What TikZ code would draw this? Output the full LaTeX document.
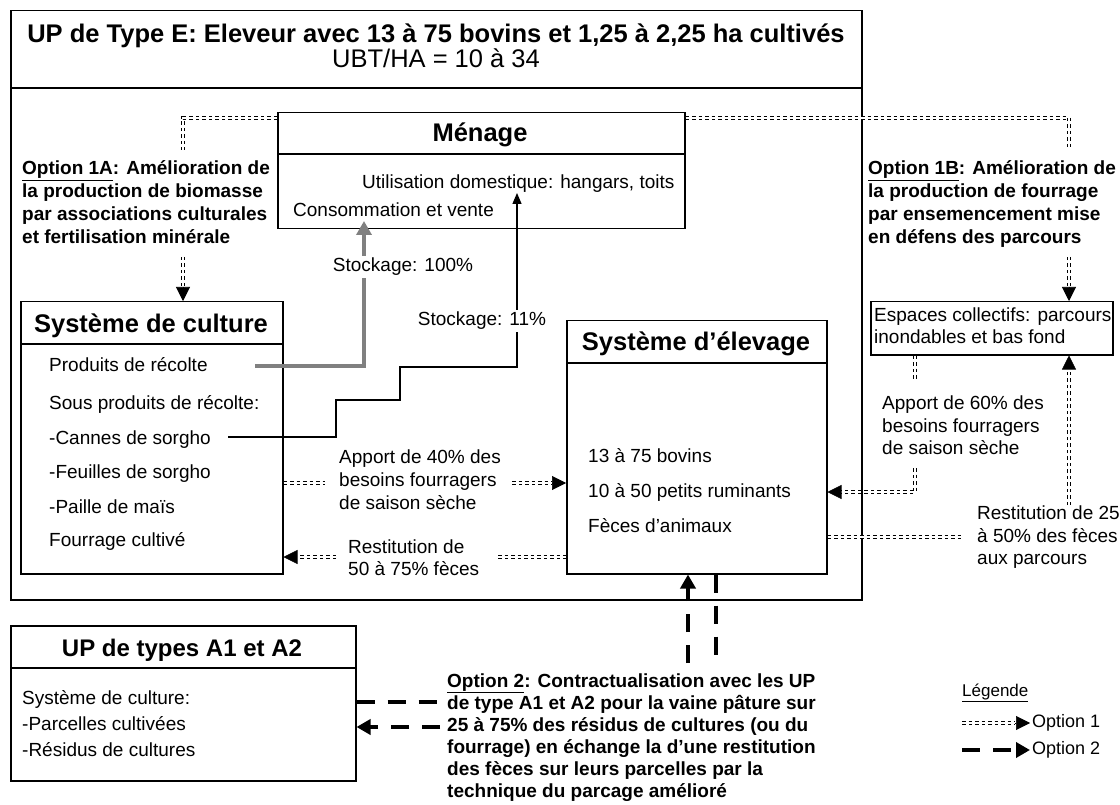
\documentclass[tikz,border=0pt]{standalone}
\usepackage{fontspec}
\setmainfont{Liberation Sans}
\usetikzlibrary{arrows.meta,calc}
\newcommand\fsz[1]{\fontsize{#1}{#1}\selectfont}
\definecolor{stockgray}{RGB}{128,128,128}
\begin{document}
\begin{tikzpicture}[x=1pt,y=-1pt,
  box/.style={draw, line width=1.5pt, anchor=north west, inner sep=0pt},
  lbl/.style={anchor=base west, inner sep=0pt, font=\fsz{19}},
  lblb/.style={anchor=base west, inner sep=0pt, font=\fsz{19}\bfseries},
  ttl/.style={anchor=base, inner sep=0pt, font=\fsz{25.5}\bfseries},
  opt1/.style={line width=1.7pt, double=white, double distance=1.1pt, dash pattern=on 3.5pt off 3pt},
  tipA/.style={line width=0.6pt, -{Triangle[length=14pt,width=14pt]}},
  opt2/.style={line width=4pt, dash pattern=on 18pt off 13pt},
  tipB/.style={-{Triangle[length=14pt,width=15pt]}},
  grayarr/.style={draw=stockgray, line width=4pt, -{Triangle[length=14pt,width=15pt]}},
  thinarr/.style={line width=1.3pt, -{Triangle[length=11pt,width=9pt]}},
  whitelbl/.style={anchor=base, fill=white, inner sep=2pt, font=\fsz{19}}
]
\useasboundingbox (0,0) rectangle (1120,805);

% ---------- boxes ----------
\node[box, minimum width=851pt, minimum height=589pt] (outer) at (10,10) {};
\draw[line width=1.5pt] (10,88) -- (861,88);
\node[ttl] (title1) at (436,43) {UP de Type E: Eleveur avec 13 à 75 bovins et 1,25 à 2,25 ha cultivés};
\node[anchor=base, inner sep=0pt, font=\fsz{25.5}] (title2) at (436,68) {UBT/HA = 10 à 34};

\node[box, minimum width=407pt, minimum height=116pt] (menage) at (277,112) {};
\draw[line width=1.5pt] (277,154) -- (684,154);
\node[ttl] (menT) at (480,142) {Ménage};
\node[lbl] (util) at (362,189) {Utilisation domestique: hangars, toits};
\node[lbl] (cons) at (293,217) {Consommation et vente};

\node[box, minimum width=262pt, minimum height=272pt] (culture) at (20,301) {};
\draw[line width=1.5pt] (20,344) -- (282,344);
\node[ttl] (culT) at (151,332) {Système de culture};
\node[lbl] (c1) at (49,371) {Produits de récolte};
\node[lbl] (c2) at (49,409) {Sous produits de récolte:};
\node[lbl] (c3) at (49,444) {-Cannes de sorgho};
\node[lbl] (c4) at (49,478) {-Feuilles de sorgho};
\node[lbl] (c5) at (49,513) {-Paille de maïs};
\node[lbl] (c6) at (49,546) {Fourrage cultivé};

\node[box, minimum width=260pt, minimum height=253pt] (elev) at (566,320) {};
\draw[line width=1.5pt] (566,363) -- (826,363);
\node[ttl] (elT) at (696,351) {Système d’élevage};
\node[lbl] (e1) at (588,462) {13 à 75 bovins};
\node[lbl] (e2) at (588,497) {10 à 50 petits ruminants};
\node[lbl] (e3) at (588,532) {Fèces d’animaux};

\node[box, minimum width=242pt, minimum height=53pt] (esp) at (870,301) {};
\node[lbl] (esp1) at (874,321) {Espaces collectifs: parcours};
\node[lbl] (esp2) at (874,344) {inondables et bas fond};

\node[box, minimum width=345pt, minimum height=155pt] (a12) at (10,625) {};
\draw[line width=1.5pt] (10,668) -- (355,668);
\node[anchor=base, inner sep=0pt, font=\fsz{24}\bfseries] (a12T) at (182,656) {UP de types A1 et A2};
\node[lbl] (a1) at (22,704) {Système de culture:};
\node[lbl] (a2) at (22,730) {-Parcelles cultivées};
\node[lbl] (a3) at (22,756) {-Résidus de cultures};

% ---------- option texts ----------
\node[lblb] (o1a1) at (22,175) {\underline{Option 1A}: Amélioration de};
\node[lblb] (o1a2) at (22,198) {la production de biomasse};
\node[lblb] (o1a3) at (22,221) {par associations culturales};
\node[lblb] (o1a4) at (22,244) {et fertilisation minérale};

\node[lblb] (o1b1) at (868,175) {\underline{Option 1B}: Amélioration de};
\node[lblb] (o1b2) at (868,198) {la production de fourrage};
\node[lblb] (o1b3) at (868,221) {par ensemencement mise};
\node[lblb] (o1b4) at (868,244) {en défens des parcours};

\node[lbl] (ap40a) at (339,463) {Apport de 40\% des};
\node[lbl] (ap40b) at (339,486) {besoins fourragers};
\node[lbl] (ap40c) at (339,509) {de saison sèche};

\node[lbl] (r50a) at (348,553) {Restitution de};
\node[lbl] (r50b) at (348,575) {50 à 75\% fèces};

\node[lbl] (ap60a) at (882,409) {Apport de 60\% des};
\node[lbl] (ap60b) at (882,432) {besoins fourragers};
\node[lbl] (ap60c) at (882,454) {de saison sèche};

\node[lbl] (r25a) at (977,519) {Restitution de 25};
\node[lbl] (r25b) at (977,542) {à 50\% des fèces};
\node[lbl] (r25c) at (977,564) {aux parcours};

\node[lblb] (o2a) at (447,687) {\underline{Option 2}: Contractualisation avec les UP};
\node[lblb] (o2b) at (447,709) {de type A1 et A2 pour la vaine pâture sur};
\node[lblb] (o2c) at (447,731) {25 à 75\% des résidus de cultures (ou du};
\node[lblb] (o2d) at (447,753) {fourrage) en échange la d’une restitution};
\node[lblb] (o2e) at (447,775) {des fèces sur leurs parcelles par la};
\node[lblb] (o2f) at (447,797) {technique du parcage amélioré};

% ---------- option 1 connectors ----------
\coordinate (m1a) at ($(menage.north west)+(0,6)$);
\coordinate (k1a) at (183,118);
\coordinate (k1aE) at (183,150);
\draw[opt1] (m1a) -- (k1a) -- (k1aE);
\coordinate (k1aS) at (183,257);
\coordinate (k1aT) at (183,287);
\draw[opt1] (k1aS) -- (k1aT);
\draw[tipA] (k1aT) -- (culture.north -| k1aT);

\coordinate (m1b) at ($(menage.north east)+(0,6)$);
\coordinate (k1b) at (1069,118);
\coordinate (k1bE) at (1069,147);
\draw[opt1] (m1b) -- (k1b) -- (k1bE);
\coordinate (k1bS) at (1069,257);
\coordinate (k1bT) at (1069,287);
\draw[opt1] (k1bS) -- (k1bT);
\draw[tipA] (k1bT) -- (esp.north -| k1bT);

% apport 40
\draw[opt1] (culture.east |- 0,483) -- (325,483);
\coordinate (p40s) at (512,483);
\coordinate (p40t) at (552,483);
\draw[opt1] (p40s) -- (p40t);
\draw[tipA] (p40t) -- (elev.west |- p40t);

% restitution 50-75
\coordinate (r50s) at (336,557);
\coordinate (r50t) at (296,557);
\draw[opt1] (r50s) -- (r50t);
\draw[tipA] (r50t) -- (culture.east |- r50t);
\draw[opt1] (498,557) -- (elev.west |- 0,557);

% apport 60
\draw[opt1] (esp.south -| 915,0) -- (915,381);
\coordinate (p60s) at (915,468);
\coordinate (p60b) at (915,492);
\coordinate (p60t) at (840,492);
\draw[opt1] (p60s) -- (p60b) -- (p60t);
\draw[tipA] (p60t) -- (elev.east |- p60t);

% restitution 25
\draw[opt1] (elev.east |- 0,537) -- (963,537);
\coordinate (r25s) at (1069,505);
\coordinate (r25t) at (1069,368);
\draw[opt1] (r25s) -- (r25t);
\draw[tipA] (r25t) -- (esp.south -| r25t);

% ---------- stockage connectors ----------
\coordinate (gs) at (255,366);
\coordinate (gt) at (364,221);
\draw[grayarr] (gs) -| (gt);
\coordinate (bs) at (228,437);
\coordinate (b1) at (336,400);
\coordinate (b2) at (400,367);
\coordinate (bt) at (517,193);
\draw[thinarr] (bs) -| (b1) -| (b2) -| (bt);
\node[whitelbl] (st100) at (403,272) {Stockage: 100\%};
\node[whitelbl] (st11) at (482,326) {Stockage: 11\%};

% ---------- option 2 connectors ----------
\draw[opt2, tipB] (688,663) -- (elev.south -| 688,0);
\draw[opt2] (elev.south -| 716,0) -- (716,660);
\draw[opt2] (a12.east |- 0,702) -- (440,702);
\draw[opt2, tipB] (440,727) -- (a12.east |- 0,727);

% ---------- legend ----------
\node[anchor=base west, inner sep=0pt, font=\fsz{17}] (leg) at (962,696) {\underline{Légende}};
\coordinate (l1s) at (962,723);
\coordinate (l1m) at (1015,723);
\coordinate (l1t) at (1030,723);
\draw[opt1] (l1s) -- (l1m);
\draw[tipA] (l1m) -- (l1t);
\node[anchor=west, inner sep=0pt, font=\fsz{18}] (leg1) at (1032,723) {Option 1};
\coordinate (l2s) at (962,750);
\coordinate (l2t) at (1030,750);
\draw[opt2, tipB] (l2s) -- (l2t);
\node[anchor=west, inner sep=0pt, font=\fsz{18}] (leg2) at (1032,750) {Option 2};
\end{tikzpicture}
\end{document}
